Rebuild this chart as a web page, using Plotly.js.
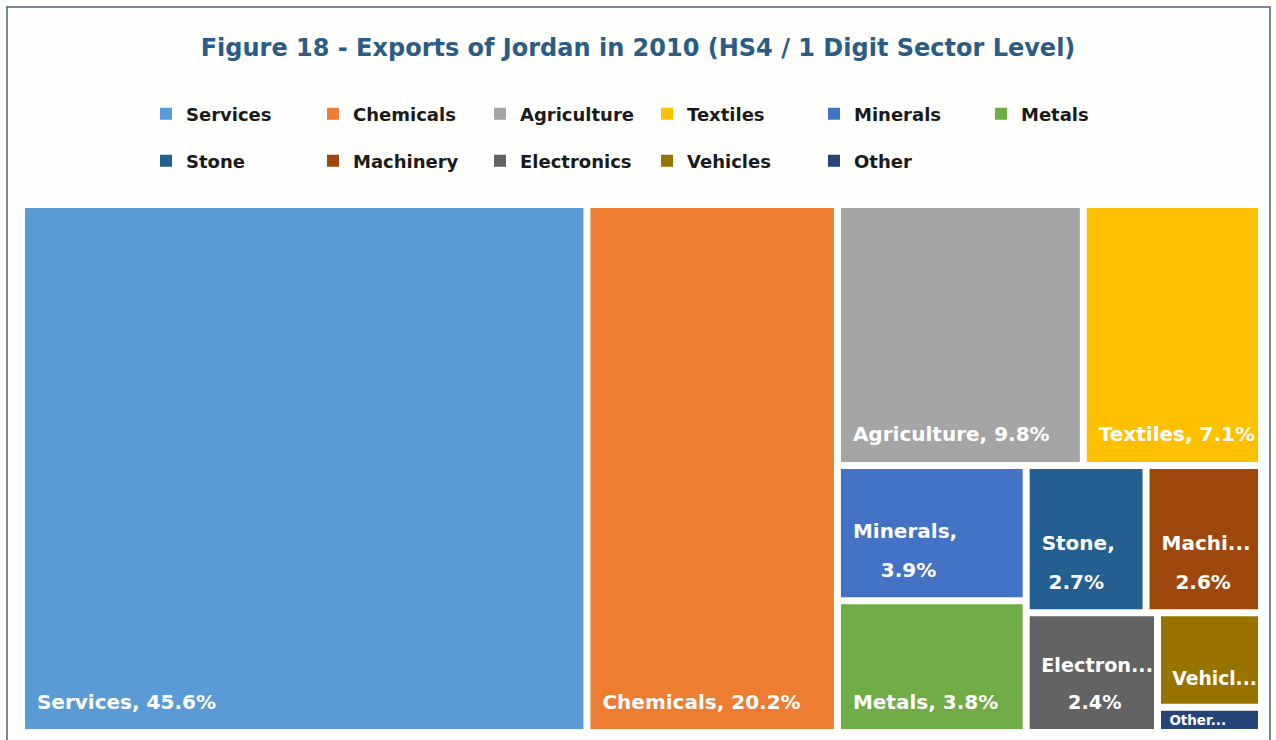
<!DOCTYPE html>
<html>
<head>
<meta charset="utf-8">
<script src="https://cdn.plot.ly/plotly-3.0.1.min.js"></script>
<style>
  html, body { margin: 0; padding: 0; background: #ffffff; }
  #chart { width: 1276px; height: 740px; }
</style>
</head>
<body>
<div id="chart"></div>
<script>
// ---- Data ----
const sectors = ["Services", "Chemicals", "Agriculture", "Textiles", "Minerals", "Metals",
                 "Stone", "Machinery", "Electronics", "Vehicles", "Other"];
const shares = [45.6, 20.2, 9.8, 7.1, 3.9, 3.8, 2.7, 2.6, 2.4, 1.5, 0.4];
const colors = ["#5b9bd5", "#ed7d31", "#a5a5a5", "#ffc000", "#4472c4", "#70ad47",
                "#255e91", "#9e480e", "#636363", "#997300", "#264478"];
// Tile labels as shown (truncated / wrapped as in the original)
const tileLines = [
  ["Services, 45.6%"], ["Chemicals, 20.2%"], ["Agriculture, 9.8%"], ["Textiles, 7.1%"],
  ["Minerals,", "3.9%"], ["Metals, 3.8%"], ["Stone,", "2.7%"], ["Machi...", "2.6%"],
  ["Electron...", "2.4%"], ["Vehicl..."], ["Other..."]
];
const legendRow1 = ["Services", "Chemicals", "Agriculture", "Textiles", "Minerals", "Metals"];
const legendRow2 = ["Stone", "Machinery", "Electronics", "Vehicles", "Other"];
const titleText = "Figure 18 - Exports of Jordan in 2010 (HS4 / 1 Digit Sector Level)";

// ---- Style ----
const FONT = "DejaVu Sans, Verdana, sans-serif";
const TILE_SIZE = 20;
const BG = "#fefefc";
const W = 1276, H = 740;
const px = v => v / W, py = v => 1 - v / H;
const domain = { x: [px(23), px(1260)], y: [py(731), py(206)] };

const NB = "\u00a0", THIN = "\u2009";
const ctx = document.createElement("canvas").getContext("2d");
ctx.font = "bold " + TILE_SIZE + "px 'DejaVu Sans'";
const nbW = ctx.measureText(NB).width || TILE_SIZE * 0.35;
function centreLines(lines) {
  const ws = lines.map(l => ctx.measureText(l).width);
  const maxW = Math.max.apply(null, ws);
  return lines.map((l, i) => {
    const n = Math.round((maxW - ws[i]) / 2 / nbW);
    return NB.repeat(n) + l + NB.repeat(n);
  });
}
const SPACER = '<span style="font-size:1px">' + NB + '</span>';
const tileText = tileLines.map((lines, i) => {
  const parts = centreLines(lines).map(l =>
    '<span style="font-size:' + TILE_SIZE + 'px">' + NB + THIN + l + '</span>');
  let s = parts.join("<br>" + SPACER + "<br>");
  if (sectors[i] !== "Other") s += "<br>" + SPACER;
  return s;
});

const tm = {
  type: "treemap",
  labels: sectors, parents: sectors.map(() => ""), values: shares,
  text: tileText, texttemplate: "%{text}", textposition: "bottom left",
  sort: false,
  marker: { colors: colors, line: { color: BG, width: 4 }, pad: { t: 0, l: 0, r: 0, b: 0 } },
  leaf: { opacity: 1 },
  pathbar: { visible: false },
  textfont: { family: FONT, size: 15, color: "#ffffff", weight: "bold" },
  domain: domain,
  tiling: { packing: "squarify", squarifyratio: 1 },
  hovertemplate: "%{label}: %{value}%<extra></extra>",
  showlegend: false
};

const legendCols = [146, 313, 480, 647, 814, 981];
const legendRows = [114, 161];
const legendTraces = [];
const legendLayouts = {};
let k = 0;
[legendRow1, legendRow2].forEach((row, r) => {
  row.forEach((name, c) => {
    k += 1;
    const id = k === 1 ? "legend" : "legend" + k;
    legendTraces.push({
      type: "scatter", mode: "markers", x: [null], y: [null], name: name,
      marker: { symbol: "square", size: 12, color: colors[sectors.indexOf(name)] },
      legend: id, showlegend: true, hoverinfo: "skip"
    });
    legendLayouts[id] = {
      orientation: "h", xanchor: "left", yanchor: "middle",
      x: px(legendCols[c]), y: py(legendRows[r]),
      font: { family: FONT, size: 18, color: "#1a1a1a", weight: "bold" },
      bgcolor: "rgba(0,0,0,0)", itemwidth: 30
    };
  });
});

const layout = Object.assign({
  width: W, height: H,
  margin: { l: 0, r: 0, t: 0, b: 0, autoexpand: false },
  paper_bgcolor: BG, plot_bgcolor: BG,
  title: {
    text: titleText, x: 0.5, xanchor: "center", y: py(48), yanchor: "middle",
    font: { family: FONT, size: 24, color: "#2b5c86", weight: "bold" }
  },
  xaxis: { visible: false, fixedrange: true }, yaxis: { visible: false, fixedrange: true },
  shapes: [{
    type: "rect", xref: "paper", yref: "paper",
    x0: px(7), x1: px(1270), y0: py(760), y1: py(7),
    line: { color: "#4a6178", width: 1.5 }, fillcolor: "rgba(0,0,0,0)", layer: "below"
  }]
}, legendLayouts);

Plotly.newPlot("chart", [tm].concat(legendTraces), layout, { displayModeBar: false });
</script>
</body>
</html>
